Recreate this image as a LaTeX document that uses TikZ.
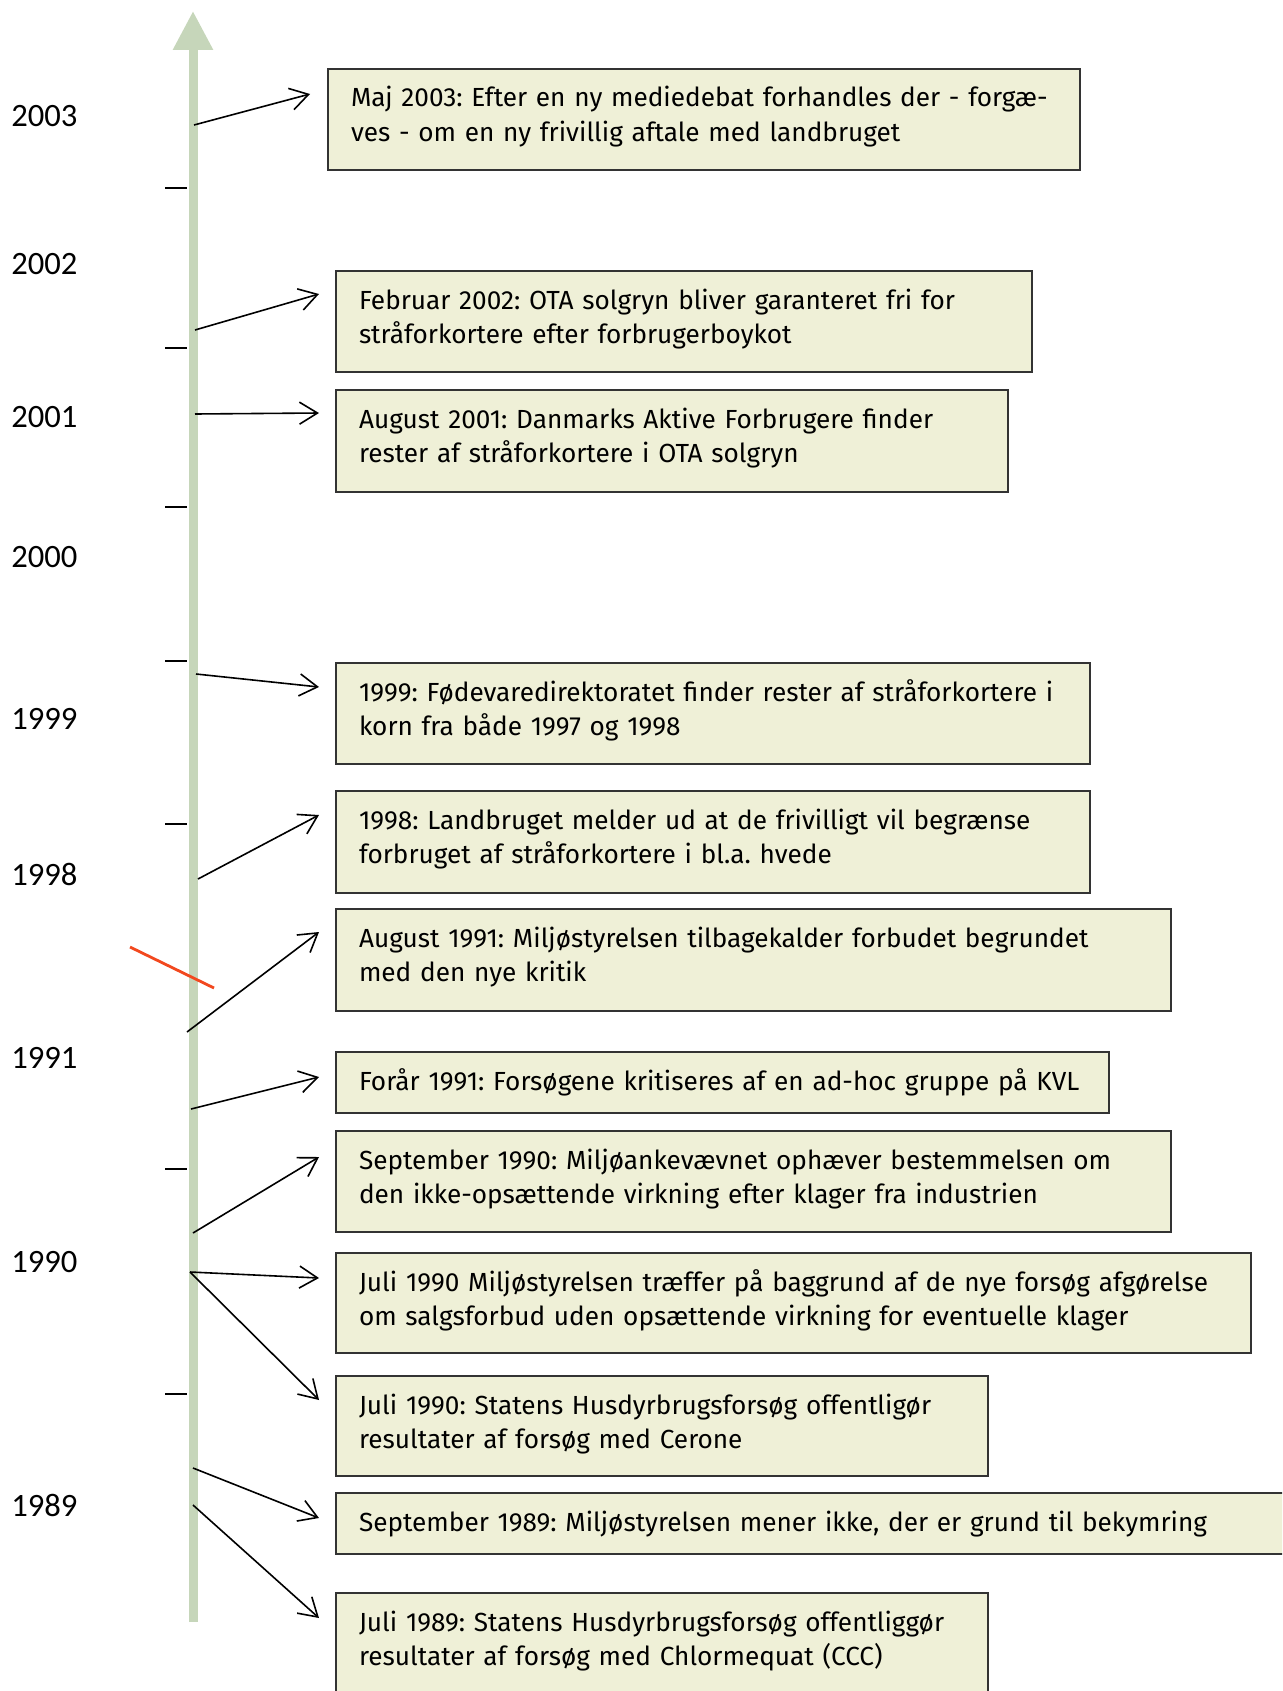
\documentclass[tikz,border=0pt]{standalone}
\usepackage{fontspec}
\setmainfont{Fira Sans}
\newfontfamily\yearfont{Carlito}
\usepackage{tikz}
\usetikzlibrary{arrows.meta}
\frenchspacing

\definecolor{axisgreen}{HTML}{C6D6BA}
\definecolor{boxfill}{HTML}{EFF0D7}
\definecolor{boxline}{HTML}{333333}
\definecolor{breakred}{HTML}{F2481E}

\tikzset{
  axis/.style={draw=axisgreen, line width=4.5pt, -{Triangle[length=19.5pt,width=19pt]}},
  tick/.style={line width=0.8pt},
  year/.style={anchor=west, inner sep=0pt, font=\yearfont\fontsize{16.3}{18}\selectfont},
  eventbox/.style={draw=boxline, fill=boxfill, line width=1pt, anchor=north west,
    inner xsep=11.5pt, inner ysep=0pt, align=left, text height=19pt,
    font=\fontsize{13.1}{17.25}\selectfont},
  evarrow/.style={-{Straight Barb[length=9pt,width=11pt]}, line width=0.8pt}
}

\begin{document}
\begin{tikzpicture}[x=0.5pt,y=-0.5pt]
  \useasboundingbox (0,0) rectangle (1282,1691);
  \clip (0,0) rectangle (1282,1691);

  % time axis
  \coordinate (axisbot) at (193,1622);
  \coordinate (axistop) at (193,11);
  \draw [axis] (axisbot) -- (axistop);
  \foreach \y in {188,348,507,661,824,1169,1394}
    \draw [tick] (165,\y) -- (187,\y);
  \draw [line width=1.4pt, breakred] (130,947) -- (214,988);

  % years
  \node [year] (y2003) at (11,116) {2003};
  \node [year] (y2002) at (11,264) {2002};
  \node [year] (y2001) at (11,417) {2001};
  \node [year] (y2000) at (11,557) {2000};
  \node [year] (y1999) at (11,719) {1999};
  \node [year] (y1998) at (11,874) {1998};
  \node [year] (y1991) at (11,1058) {1991};
  \node [year] (y1990) at (11,1262) {1990};
  \node [year] (y1989) at (11,1505) {1989};

  % events
  \node [eventbox, text width=353pt, text depth=31.5pt] (eMaj03) at (327,68)
    {Maj 2003: Efter en ny mediedebat forhandles der - forgæ-\\ves - om en ny frivillig aftale med landbruget};
  \node [eventbox, text width=325pt, text depth=31.5pt] (eFeb02) at (335,270)
    {Februar 2002: OTA solgryn bliver garanteret fri for\\stråforkortere efter forbrugerboykot};
  \node [eventbox, text width=313pt, text depth=32pt] (eAug01) at (335,389)
    {August 2001: Danmarks Aktive Forbrugere finder\\rester af stråforkortere i OTA solgryn};
  \node [eventbox, text width=354pt, text depth=31.5pt] (e99) at (335,662)
    {1999: Fødevaredirektoratet finder rester af stråforkortere i\\korn fra både 1997 og 1998};
  \node [eventbox, text width=354pt, text depth=32pt] (e98) at (335,790)
    {1998: Landbruget melder ud at de frivilligt vil begrænse\\forbruget af stråforkortere i bl.a. hvede};
  \node [eventbox, text width=394.5pt, text depth=32pt] (eAug91) at (335,908)
    {August 1991: Miljøstyrelsen tilbagekalder forbudet begrundet\\med den nye kritik};
  \node [eventbox, text width=363.5pt, text depth=11.5pt] (eFor91) at (335,1051)
    {Forår 1991: Forsøgene kritiseres af en ad-hoc gruppe på KVL};
  \node [eventbox, text width=394.5pt, text depth=31.5pt] (eSep90) at (335,1130)
    {September 1990: Miljøankevævnet ophæver bestemmelsen om\\den ikke-opsættende virkning efter klager fra industrien};
  \node [eventbox, text width=434.5pt, text depth=31pt] (eJul90m) at (335,1252)
    {Juli 1990 Miljøstyrelsen træffer på baggrund af de nye forsøg afgørelse\\om salgsforbud uden opsættende virkning for eventuelle klager};
  \node [eventbox, text width=303pt, text depth=31pt] (eJul90s) at (335,1375)
    {Juli 1990: Statens Husdyrbrugsforsøg offentligør\\resultater af forsøg med Cerone};
  \node [eventbox, text width=467pt, text depth=11.5pt] (eSep89) at (335,1492)
    {September 1989: Miljøstyrelsen mener ikke, der er grund til bekymring};
  \node [eventbox, text width=303pt, text depth=41pt] (eJul89) at (335,1592)
    {Juli 1989: Statens Husdyrbrugsforsøg offentliggør\\resultater af forsøg med Chlormequat (CCC)};

  % arrows from the axis
  \coordinate (tMaj03) at (194,125);
  \coordinate (tFeb02) at (195,330);
  \coordinate (tAug01) at (195,414);
  \coordinate (t99) at (196,674);
  \coordinate (t98) at (198,879);
  \coordinate (tAug91) at (187,1032);
  \coordinate (tFor91) at (191,1109);
  \coordinate (tSep90) at (193,1233);
  \coordinate (tJul90) at (190,1272);
  \coordinate (tSep89) at (193,1468);
  \coordinate (tJul89) at (193,1505);
  \draw [evarrow] (tMaj03) -- ([shift={(-17,26)}]eMaj03.north west);
  \draw [evarrow] (tFeb02) -- ([shift={(-16,24)}]eFeb02.north west);
  \draw [evarrow] (tAug01) -- ([shift={(-16,24)}]eAug01.north west);
  \draw [evarrow] (t99) -- ([shift={(-16,25)}]e99.north west);
  \draw [evarrow] (t98) -- ([shift={(-16,25)}]e98.north west);
  \draw [evarrow] (tAug91) -- ([shift={(-16,24)}]eAug91.north west);
  \draw [evarrow] (tFor91) -- ([shift={(-16,26)}]eFor91.north west);
  \draw [evarrow] (tSep90) -- ([shift={(-16,27)}]eSep90.north west);
  \draw [evarrow] (tJul90) -- ([shift={(-16,26)}]eJul90m.north west);
  \draw [evarrow] (tJul90) -- ([shift={(-16,25)}]eJul90s.north west);
  \draw [evarrow] (tSep89) -- ([shift={(-16,26)}]eSep89.north west);
  \draw [evarrow] (tJul89) -- ([shift={(-16,26)}]eJul89.north west);
\end{tikzpicture}
\end{document}
